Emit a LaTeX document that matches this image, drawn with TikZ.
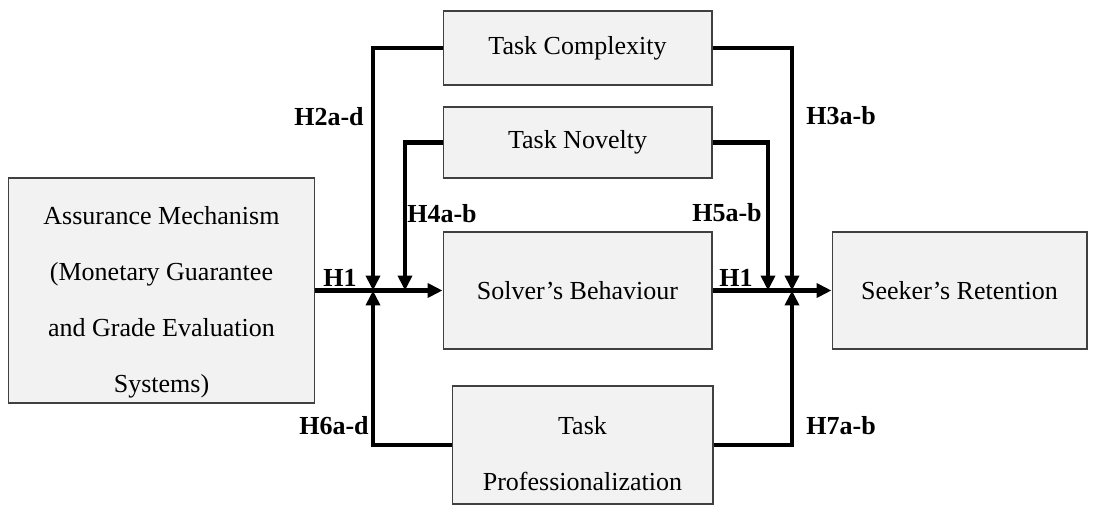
\documentclass[tikz,border=0pt]{standalone}
\usepackage{fontspec}
\setmainfont{Liberation Serif}
\usetikzlibrary{arrows.meta}

\begin{document}
\begin{tikzpicture}[x=0.02cm,y=-0.02cm,
    box/.style={draw=black!75,line width=0.6pt,fill=black!5,inner sep=0pt,align=center,
      font=\fontsize{14.8}{31.9}\selectfont},
    txt/.style={inner sep=0pt,align=center,font=\fontsize{14.8}{31.9}\selectfont},
    hyp/.style={inner sep=0pt,font=\fontsize{14.8}{17}\selectfont\bfseries},
    flow/.style={line width=2.3pt,-{Triangle[length=0.3cm,width=0.28cm]}}]
\useasboundingbox (0,0) rectangle (1096,507);
                    % boxes
                    \node[box,minimum width=6.14cm,minimum height=4.5cm] (assur) at (161.5,290.5) {};
                    \node[txt] (assurtxt) at (161.5,302)
                        {Assurance Mechanism\\(Monetary Guarantee\\and Grade Evaluation\\Systems)};
                    \node[box,minimum width=5.38cm,minimum height=1.48cm] (cmplx) at (577.5,48) {Task Complexity};
                    \node[box,minimum width=5.38cm,minimum height=1.42cm] (novel) at (577.5,142.5) {Task Novelty};
                    \node[box,minimum width=5.38cm,minimum height=2.34cm] (solver) at (577.5,290.5) {Solver’s Behaviour};
                    \node[box,minimum width=5.1cm,minimum height=2.34cm] (retent) at (959.5,290.5) {Seeker’s Retention};
                    \node[box,minimum width=5.22cm,minimum height=2.36cm] (prof) at (582.5,445) {};
                    \node[txt] (proftxt) at (582.5,454) {Task\\Professionalization};
                    % junctions
                    \coordinate (j1) at (373,290.5);
                    \coordinate (n1) at (405,290.5);
                    \coordinate (n2) at (768,290.5);
                    \coordinate (j2) at (792,290.5);
                    % arrows
                    \draw[flow] (assur.east) -- (solver.west);
                    \draw[flow] (solver.east) -- (retent.west);
                    \draw[flow] (cmplx.west) -| (j1);
                    \draw[flow] (novel.west) -| (n1);
                    \draw[flow] (prof.west) -| (j1);
                    \draw[flow] (cmplx.east) -| (j2);
                    \draw[flow] (novel.east) -| (n2);
                    \draw[flow] (prof.east) -| (j2);
                    % hypotheses
                    \node[hyp,anchor=base] (h1a) at (340,286) {H1};
                    \node[hyp,anchor=base] (h1b) at (736,286) {H1};
                    \node[hyp,anchor=east] (h2) at (364,117) {H2a-d};
                    \node[hyp,anchor=west] (h3) at (806,116) {H3a-b};
                    \node[hyp,anchor=west] (h4) at (407,214) {H4a-b};
                    \node[hyp,anchor=east] (h5) at (762,213) {H5a-b};
                    \node[hyp,anchor=east] (h6) at (369,426) {H6a-d};
                    \node[hyp,anchor=west] (h7) at (806,426) {H7a-b};
\end{tikzpicture}
\end{document}
